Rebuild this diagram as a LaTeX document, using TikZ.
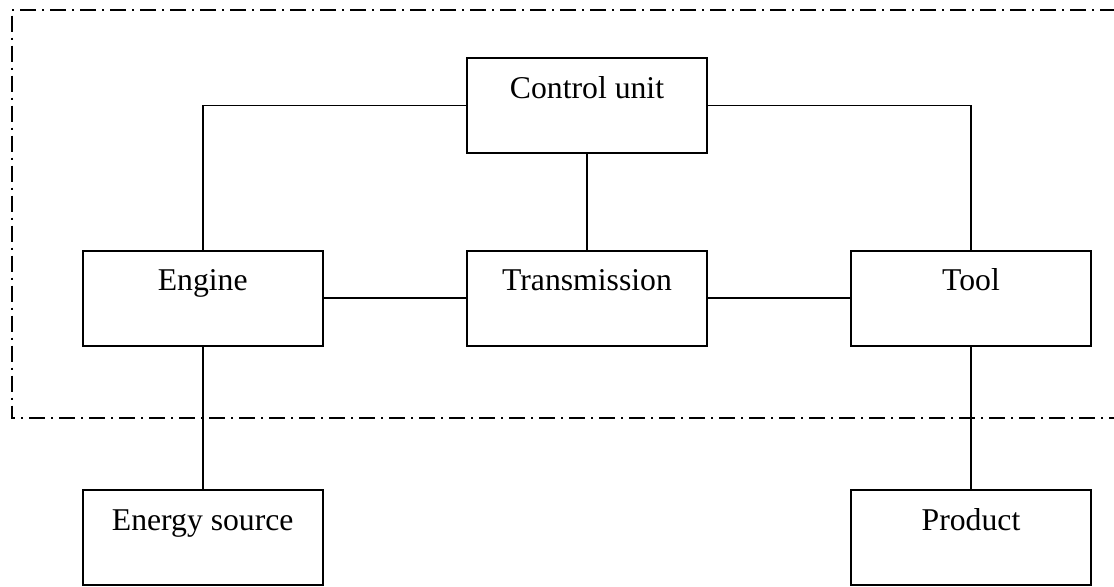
\documentclass[tikz,border=0pt]{standalone}
\usepackage{fontspec}
\setmainfont{Liberation Serif}
\begin{document}
\begin{tikzpicture}[x=0.5pt,y=-0.5pt,
  blockbox/.style={draw, line width=1pt, minimum width=120pt, minimum height=47.5pt,
    inner sep=0pt, text height=20pt, text depth=27.5pt, anchor=center,
    font=\fontsize{15.85pt}{19pt}\selectfont},
  conn/.style={line width=0.8pt},
  frame/.style={line width=1pt, dash pattern=on 8pt off 3pt on 1pt off 3pt}]
\useasboundingbox (0,0) rectangle (1114,586);
\node[blockbox] (cu) at (587,105.5) {Control unit};
\node[blockbox] (engine) at (202.7,298) {Engine};
\node[blockbox] (tr) at (587,298) {Transmission};
\node[blockbox] (tool) at (971,298) {Tool};
\node[blockbox] (es) at (202.7,537.5) {Energy source};
\node[blockbox] (prod) at (971,537.5) {Product};
\coordinate (fr1) at (1116,10);
\coordinate (fr2) at (11.7,10);
\coordinate (fr3) at (11.7,418);
\coordinate (fr4) at (1116,418);
\draw[frame] (fr1) -- (fr2) -- (fr3) -- (fr4);
\draw[conn] (cu.west) -| (engine.north);
\draw[conn] (cu.east) -| (tool.north);
\draw[conn] (cu.south) -- (tr.north);
\draw[conn] (engine.east) -- (tr.west);
\draw[conn] (tr.east) -- (tool.west);
\draw[conn] (engine.south) -- (es.north);
\draw[conn] (tool.south) -- (prod.north);
\end{tikzpicture}
\end{document}
